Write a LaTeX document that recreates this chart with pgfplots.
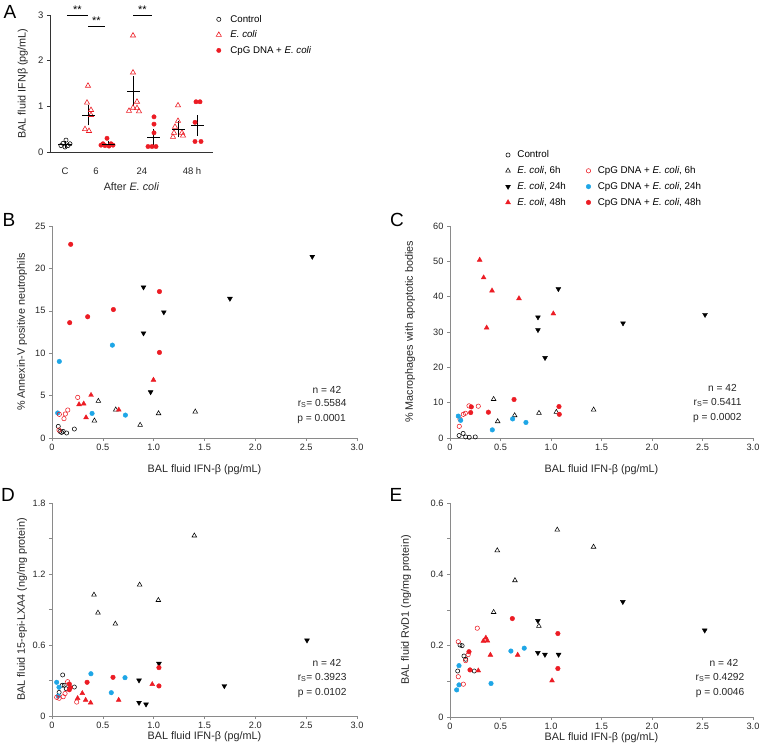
\documentclass[border=0pt]{standalone}
\usepackage{fontspec}
\setmainfont{Liberation Sans}
\usepackage{pgfplots}
\pgfplotsset{compat=1.18}
\definecolor{myred}{HTML}{EC1C24}
\definecolor{myblue}{HTML}{1EA6E6}
\definecolor{axgray}{HTML}{8A8A8A}
\newcommand{\ec}{\textit{E. coli}}
\pgfplotsset{
  /pgf/number format/assume math mode=true,
  ctrl/.style={only marks, black, mark=o, mark size=2.1pt, mark options={line width=0.55pt}},
  e6/.style={only marks, black, mark=triangle, mark size=2.7pt, mark options={line width=0.55pt}},
  e24/.style={only marks, black, mark=triangle*, mark size=2.8pt, mark options={rotate=180}},
  e48/.style={only marks, myred, mark=triangle*, mark size=2.8pt},
  c6/.style={only marks, myred, mark=o, mark size=2.2pt, mark options={line width=0.55pt}},
  c24/.style={only marks, myblue, mark=*, mark size=2.3pt},
  c48/.style={only marks, myred, mark=*, mark size=2.3pt},
  panel/.style={
    scale only axis, anchor=south west, axis lines=left,
    axis line style={axgray, line width=0.6pt, -},
    major tick style={axgray, line width=0.6pt},
    minor tick style={axgray, line width=0.6pt},
    tick align=outside, major tick length=3pt, minor tick length=3pt,
    xmin=0, xmax=3, ymin=0, clip=false,
    xtick={0,0.5,1,1.5,2,2.5,3},
    xticklabels={0,0.5,1.0,1.5,2.0,2.5,3.0},
    ticklabel style={font=\fontsize{9.2}{11}\selectfont, text=black!85},
    label style={font=\fontsize{10.8}{13}\selectfont, text=black!85},
    xlabel={BAL fluid IFN-β (pg/mL)},
  },
}
\begin{document}
\begin{tikzpicture}
\useasboundingbox (0pt,0pt) rectangle (763pt,-754pt);
\tikzset{stat/.style={anchor=east, font=\fontsize{10.2}{12}\selectfont, text=black!85}}

% ---------------- A ----------------
\begin{axis}[
  scale only axis, anchor=south west, at={(50pt,-152pt)},
  width=163pt, height=137pt,
  axis lines=left, axis line style={black!80, line width=0.7pt, -},
  tick style={black!80, line width=0.7pt}, tick align=outside, major tick length=3pt,
  xmin=0, xmax=163, ymin=0, ymax=3, clip=false,
  xtick={15,46,92,142}, xticklabels={C,6,24,48 h},
  x tick style={draw=none}, xticklabel style={yshift=-9pt},
  ytick={0,1,2,3},
  ticklabel style={font=\fontsize{9.5}{11}\selectfont, text=black!85},
  label style={font=\fontsize{10.8}{13}\selectfont, text=black!85},
  xlabel={After \ec},
  xlabel style={at={(axis description cs:0.5,0)}, anchor=center, yshift=-35pt},
  ylabel={BAL fluid IFNβ (pg/mL)},
  ylabel style={at={(axis description cs:-0.166,0.5)}, anchor=center},
  legend style={at={(axis description cs:1.0,1.03)}, anchor=north west, draw=none, fill=none,
    font=\fontsize{9.7}{11}\selectfont, row sep=3pt,
    /tikz/every odd column/.append style={column sep=7pt}},
  legend cell align=left,
]
\addplot[ctrl] coordinates {(11,0.14) (13,0.19) (16,0.26) (18,0.14) (20,0.18) (15,0.11)};
\addlegendentry{Control}
\addplot[only marks, myred, mark=triangle, mark size=3pt, mark options={line width=0.6pt}] coordinates {(38,1.45) (37,1.08) (41,0.92) (41,0.81) (35,0.50) (39,0.46)};
\addlegendentry{\ec}
\addplot[only marks, myred, mark=*, mark size=2.2pt] coordinates {(57,0.30) (53,0.18) (61,0.18) (55,0.14) (59,0.13) (51,0.15) (63,0.15)};
\addlegendentry{CpG DNA + \ec}
\addplot[only marks, myred, mark=triangle, mark size=3pt, mark options={line width=0.6pt}, forget plot] coordinates {(83,2.55) (83,1.74) (87,1.10) (83,0.97) (87,0.96) (79,0.90) (89,0.89)};
\addplot[only marks, myred, mark=*, mark size=2.2pt, forget plot] coordinates {(104,0.77) (104,0.61) (104,0.42) (98,0.12) (102,0.12) (106,0.12)};
\addplot[only marks, myred, mark=triangle, mark size=3pt, mark options={line width=0.6pt}, forget plot] coordinates {(128,1.02) (128,0.68) (125,0.55) (124,0.42) (132,0.42) (123,0.33) (133,0.36)};
\addplot[only marks, myred, mark=*, mark size=2.2pt, forget plot] coordinates {(146,1.10) (150,1.10) (145,0.65) (145,0.23) (151,0.23)};
% means with SEM
\addplot[black, only marks, mark=-, mark size=6.5pt, mark options={line width=0.8pt}, forget plot,
  error bars/.cd, y dir=both, y explicit, error bar style={line width=0.8pt},
  error mark options={mark size=2.8pt, line width=0.8pt}]
  coordinates {
  (15,0.17) +- (0,0.02)
  (38,0.81) +- (0,0.165)
  (58,0.17) +- (0,0.02)
  (83,1.33) +- (0,0.265)
  (103,0.33) +- (0,0.115)
  (128,0.50) +- (0,0.12)
  (147,0.58) +- (0,0.165)};
\draw[black, line width=0.9pt] (axis cs:17,3.0) -- (axis cs:38,3.0);
\draw[black, line width=0.9pt] (axis cs:38,2.76) -- (axis cs:55,2.76);
\draw[black, line width=0.9pt] (axis cs:83,3.0) -- (axis cs:102,3.0);
\node[font=\fontsize{11}{12}\selectfont] at (axis cs:27.5,3.0) [yshift=5pt] {**};
\node[font=\fontsize{11}{12}\selectfont] at (axis cs:46.5,2.76) [yshift=5pt] {**};
\node[font=\fontsize{11}{12}\selectfont] at (axis cs:92.5,3.0) [yshift=5pt] {**};
\end{axis}

% ---------------- B ----------------
\begin{axis}[panel, at={(52pt,-438pt)}, width=305pt, height=212pt,
  ymax=25, ytick={0,5,10,15,20,25},
  ylabel={\% Annexin-V positive neutrophils},
  ylabel style={at={(axis description cs:-0.098,0.5)}, anchor=center},
  xlabel style={at={(axis description cs:0.5,0)}, anchor=center, yshift=-32pt},
]
\addplot[ctrl] coordinates {(0.062,1.37) (0.079,0.78) (0.11,0.78) (0.144,0.59) (0.22,1.06) (0.095,0.66)};
\addplot[e6] coordinates {(0.456,4.36) (0.417,2.04) (0.627,3.34) (0.867,1.53) (1.048,2.9) (1.409,3.1)};
\addplot[e24] coordinates {(0.90,17.78) (1.10,14.84) (0.90,12.36) (0.97,5.42) (1.75,16.44) (2.56,21.39)};
\addplot[e48] coordinates {(0.384,5.06) (0.266,3.96) (0.312,4.04) (0.335,2.42) (0.657,3.32) (0.998,6.85)};
\addplot[c24] coordinates {(0.072,9.03) (0.594,10.95) (0.394,2.9) (0.722,2.7) (0.056,2.95)};
\addplot[c6] coordinates {(0.253,4.79) (0.155,3.3) (0.131,2.83) (0.118,2.28) (0.072,2.79) (0.069,0.94)};
\addplot[c48] coordinates {(0.184,22.84) (0.174,13.6) (0.351,14.3) (0.604,15.15) (1.057,17.27) (1.057,10.09)};
\node[stat] at (axis description cs:0.96,0.226) {n = 42};
\node[stat] at (axis description cs:0.977,0.163) {r\textsubscript{S}= 0.5584};
\node[stat] at (axis description cs:0.975,0.09) {p = 0.0001};
\end{axis}

% ---------------- C ----------------
\begin{axis}[panel, at={(450pt,-438pt)}, width=303pt, height=212pt,
  ymax=60, ytick={0,10,20,30,40,50,60},
  ylabel={\% Macrophages with apoptotic bodies},
  ylabel style={at={(axis description cs:-0.132,0.5)}, anchor=center},
  xlabel style={at={(axis description cs:0.5,0)}, anchor=center, yshift=-32pt},
  legend style={at={(axis description cs:0.173,1.375)}, anchor=north west, draw=none, fill=none,
    font=\fontsize{9.8}{11}\selectfont, row sep=3.2pt,
    /tikz/every odd column/.append style={column sep=5pt},
    /tikz/every even column/.append style={column sep=12pt}},
  legend columns=2, legend cell align=left,
]
\addplot[ctrl] coordinates {(0.09,0.7) (0.13,1.3) (0.155,0.3) (0.19,0.2) (0.25,0.3)};
\addlegendentry{Control}
\addlegendimage{empty legend}\addlegendentry{}
\addplot[e6] coordinates {(0.432,11.0) (0.472,4.7) (0.64,6.4) (0.881,7.06) (1.053,7.35) (1.422,8.0)};
\addlegendentry{\ec, 6h}
\addplot[c6] coordinates {(0.099,5.3) (0.092,3.3) (0.152,7.0) (0.132,6.7) (0.188,9.1) (0.28,9.0)};
\addlegendentry{CpG DNA + \ec, 6h}
\addplot[e24] coordinates {(0.871,34.2) (0.871,30.6) (0.941,22.7) (1.073,42.2) (1.713,32.5) (2.525,34.9)};
\addlegendentry{\ec, 24h}
\addplot[c24] coordinates {(0.082,6.2) (0.106,5.0) (0.419,2.3) (0.62,5.4) (0.752,4.4)};
\addlegendentry{CpG DNA + \ec, 24h}
\addplot[e48] coordinates {(0.294,50.4) (0.333,45.4) (0.416,41.7) (0.363,31.2) (0.683,39.5) (1.023,35.2)};
\addlegendentry{\ec, 48h}
\addplot[c48] coordinates {(0.211,8.8) (0.205,7.2) (0.38,7.3) (0.634,10.9) (1.079,8.9) (1.082,6.7)};
\addlegendentry{CpG DNA + \ec, 48h}
\node[stat] at (axis description cs:0.958,0.235) {n = 42};
\node[stat] at (axis description cs:0.974,0.168) {r\textsubscript{S}= 0.5411};
\node[stat] at (axis description cs:0.974,0.095) {p = 0.0002};
\end{axis}

% ---------------- D ----------------
\begin{axis}[panel, at={(52pt,-716pt)}, width=305pt, height=213pt,
  ymax=1.8, ytick={0,0.6,1.2,1.8}, yticklabels={0,0.6,1.2,1.8},
  minor ytick={0.3,0.9,1.5},
  ylabel={BAL fluid 15-epi-LXA4 (ng/mg protein)},
  ylabel style={at={(axis description cs:-0.098,0.5)}, anchor=center},
  xlabel style={at={(axis description cs:0.5,0)}, anchor=center, yshift=-21pt},
]
\addplot[ctrl] coordinates {(0.105,0.347) (0.12,0.26) (0.22,0.245) (0.07,0.2) (0.14,0.23) (0.1,0.26)};
\addplot[e6] coordinates {(1.4,1.524) (0.862,1.109) (0.413,1.024) (1.046,0.979) (0.452,0.872) (0.623,0.779)};
\addplot[e24] coordinates {(2.508,0.64) (1.052,0.443) (0.856,0.302) (1.695,0.254) (0.856,0.113) (0.925,0.099)};
\addplot[e48] coordinates {(0.298,0.192) (0.252,0.15) (0.331,0.135) (0.38,0.112) (0.656,0.135) (0.986,0.268)};
\addplot[c24] coordinates {(0.046,0.285) (0.069,0.243) (0.062,0.169) (0.383,0.357) (0.583,0.197) (0.718,0.324)};
\addplot[c6] coordinates {(0.046,0.158) (0.07,0.15) (0.11,0.163) (0.128,0.19) (0.154,0.29) (0.243,0.118)};
\addplot[c48] coordinates {(1.052,0.409) (1.052,0.254) (0.6,0.327) (0.345,0.285) (0.17,0.27) (0.18,0.24) (0.17,0.222)};
\node[stat] at (axis description cs:0.96,0.249) {n = 42};
\node[stat] at (axis description cs:0.977,0.181) {r\textsubscript{S}= 0.3923};
\node[stat] at (axis description cs:0.977,0.108) {p = 0.0102};
\end{axis}

% ---------------- E ----------------
\begin{axis}[panel, at={(450pt,-717pt)}, width=303pt, height=214pt,
  ymax=0.6, ytick={0,0.2,0.4,0.6}, yticklabels={0,0.2,0.4,0.6},
  minor ytick={0.1,0.3,0.5},
  ylabel={BAL fluid RvD1 (ng/mg protein)},
  ylabel style={at={(axis description cs:-0.145,0.5)}, anchor=center},
  xlabel style={at={(axis description cs:0.5,0)}, anchor=center, yshift=-21pt},
]
\addplot[ctrl] coordinates {(0.099,0.202) (0.12,0.2) (0.138,0.171) (0.155,0.162) (0.076,0.129) (0.24,0.129)};
\addplot[e6] coordinates {(1.062,0.525) (1.421,0.477) (0.468,0.467) (0.643,0.383) (0.432,0.294) (0.88,0.255)};
\addplot[e24] coordinates {(1.711,0.323) (2.522,0.243) (0.87,0.27) (0.87,0.18) (0.94,0.175) (1.075,0.175)};
\addplot[e48] coordinates {(0.33,0.213) (0.355,0.222) (0.37,0.214) (0.40,0.174) (0.28,0.13) (0.67,0.174) (1.01,0.102)};
\addplot[c24] coordinates {(0.089,0.144) (0.089,0.09) (0.066,0.076) (0.406,0.094) (0.603,0.185) (0.735,0.193)};
\addplot[c6] coordinates {(0.082,0.211) (0.082,0.113) (0.132,0.092) (0.155,0.158) (0.18,0.175) (0.27,0.249)};
\addplot[c48] coordinates {(0.617,0.276) (1.068,0.234) (1.068,0.136) (0.188,0.183) (0.198,0.132)};
\node[stat] at (axis description cs:0.963,0.252) {n = 42};
\node[stat] at (axis description cs:0.983,0.185) {r\textsubscript{S}= 0.4292};
\node[stat] at (axis description cs:0.983,0.112) {p = 0.0046};
\end{axis}

% panel letters
\node[font=\fontsize{19}{20}\selectfont] at (10pt,-12pt) {A};
\node[font=\fontsize{19}{20}\selectfont] at (9pt,-220pt) {B};
\node[font=\fontsize{19}{20}\selectfont] at (397pt,-220pt) {C};
\node[font=\fontsize{19}{20}\selectfont] at (8pt,-495pt) {D};
\node[font=\fontsize{19}{20}\selectfont] at (396pt,-495pt) {E};
\end{tikzpicture}
\end{document}
